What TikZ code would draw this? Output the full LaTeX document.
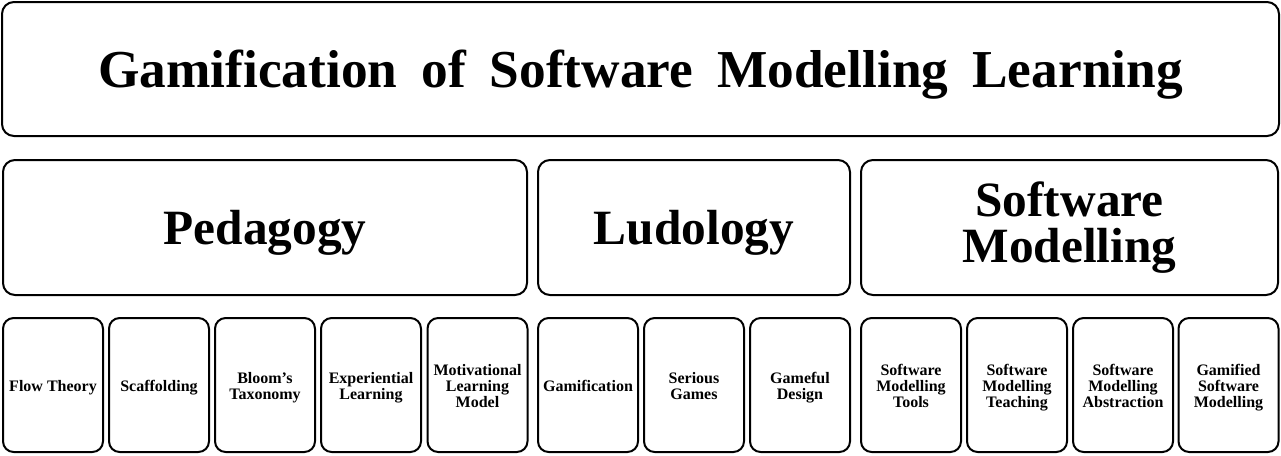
\documentclass[tikz,border=0pt]{standalone}
\usepackage{fontspec}
\setmainfont{Liberation Serif}
\newfontfamily\titlefont[WordSpace=1.8]{Liberation Serif}

\begin{document}
\begin{tikzpicture}[x=0.75pt,y=-0.75pt,
    box/.style={draw=black, line width=1.5pt, rounded corners=9pt, align=center, inner sep=0pt},
    bigtext/.style={font=\titlefont\bfseries\fontsize{40}{44}\selectfont},
    midtext/.style={font=\bfseries\fontsize{37}{35}\selectfont},
    smalltext/.style={font=\bfseries\fontsize{12}{11.8}\selectfont}]
\useasboundingbox (0,0) rectangle (1281,455);

\node[box, bigtext, text depth=0pt, minimum width=957.75pt, minimum height=100.5pt] (title) at (640.5,69) {Gamification of Software Modelling Learning};

\node[box, midtext, text depth=0pt, minimum width=393pt, minimum height=101.25pt] (pedagogy) at (265,227.5) {Pedagogy};
\node[box, midtext, text depth=0pt, minimum width=234pt, minimum height=101.25pt] (ludology) at (694,227.5) {Ludology};
\node[box, midtext, minimum width=312.75pt, minimum height=101.25pt] (modelling) at (1069.5,227.5) {Software\\Modelling};

\foreach \name/\x/\txt in {flow/53/{Flow Theory}, scaffolding/159/{Scaffolding}, bloom/265/{Bloom's\\Taxonomy},
    experiential/371/{Experiential\\Learning}, motivational/477.5/{Motivational\\Learning\\Model},
    gamification/588/{Gamification}, serious/694/{Serious\\Games}, gameful/800/{Gameful\\Design},
    tools/911/{Software\\Modelling\\Tools}, teaching/1017/{Software\\Modelling\\Teaching},
    abstraction/1123/{Software\\Modelling\\Abstraction}, gamified/1228.5/{Gamified\\Software\\Modelling}}
    \node[box, smalltext, minimum width=75pt, minimum height=100.5pt, rounded corners=8pt] (\name) at (\x,385) {\rule{0pt}{13pt}\txt\strut};

\end{tikzpicture}
\end{document}
